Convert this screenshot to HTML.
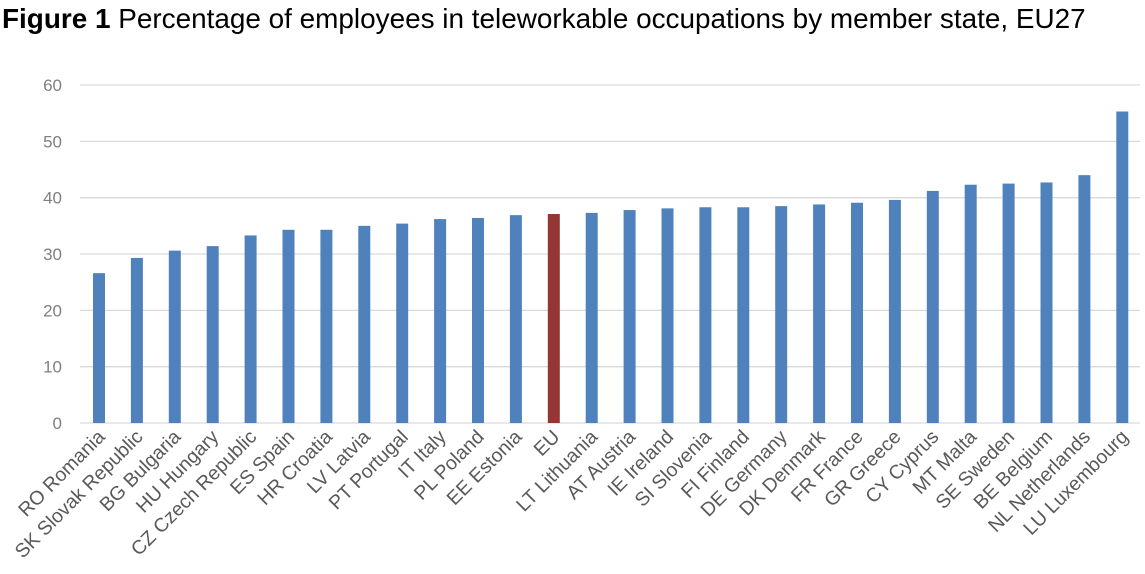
<!DOCTYPE html>
<html><head><meta charset="utf-8"><style>
body{margin:0;background:#fff;}
svg{display:block;font-family:"Liberation Sans",Arial,sans-serif;}
</style></head><body>
<svg width="1145" height="574" xmlns="http://www.w3.org/2000/svg">
<text x="2" y="28" font-size="27.9" fill="#000"><tspan font-weight="bold">Figure 1</tspan> Percentage of employees in teleworkable occupations by member state, EU27</text>
<g id="g"></g>
</svg>
<script>
const g=document.getElementById('g');
let h='';
const y0=423,s=5.633;
for(let v=0;v<=60;v+=10){const y=y0-v*s;
h+=`<line x1="80" x2="1140" y1="${y}" y2="${y}" stroke="#d9d9d9" stroke-width="1.3"/>`;
h+=`<text x="62" y="${y+6}" font-size="17" fill="#7f7f7f" text-anchor="end">${v}</text>`;}
const d=[["RO Romania",26.6],["SK Slovak Republic",29.3],["BG Bulgaria",30.6],["HU Hungary",31.4],["CZ Czech Republic",33.3],["ES Spain",34.3],["HR Croatia",34.3],["LV Latvia",35],["PT Portugal",35.4],["IT Italy",36.2],["PL Poland",36.4],["EE Estonia",36.9],["EU",37.1],["LT Lithuania",37.3],["AT Austria",37.8],["IE Ireland",38.1],["SI Slovenia",38.3],["FI Finland",38.3],["DE Germany",38.5],["DK Denmark",38.8],["FR France",39.1],["GR Greece",39.6],["CY Cyprus",41.2],["MT Malta",42.3],["SE Sweden",42.5],["BE Belgium",42.7],["NL Netherlands",44],["LU Luxembourg",55.3]];
d.forEach((e,i)=>{const cx=99+i*37.9;const hh=e[1]*s;
h+=`<rect x="${cx-6}" y="${y0-hh}" width="12" height="${hh}" fill="${e[0]=='EU'?'#943634':'#4f81bd'}"/>`;
h+=`<text transform="translate(${cx+7},${y0+15}) rotate(-45)" font-size="19.5" fill="#595959" text-anchor="end">${e[0]}</text>`;});
g.innerHTML=h;
</script>
</body></html>
